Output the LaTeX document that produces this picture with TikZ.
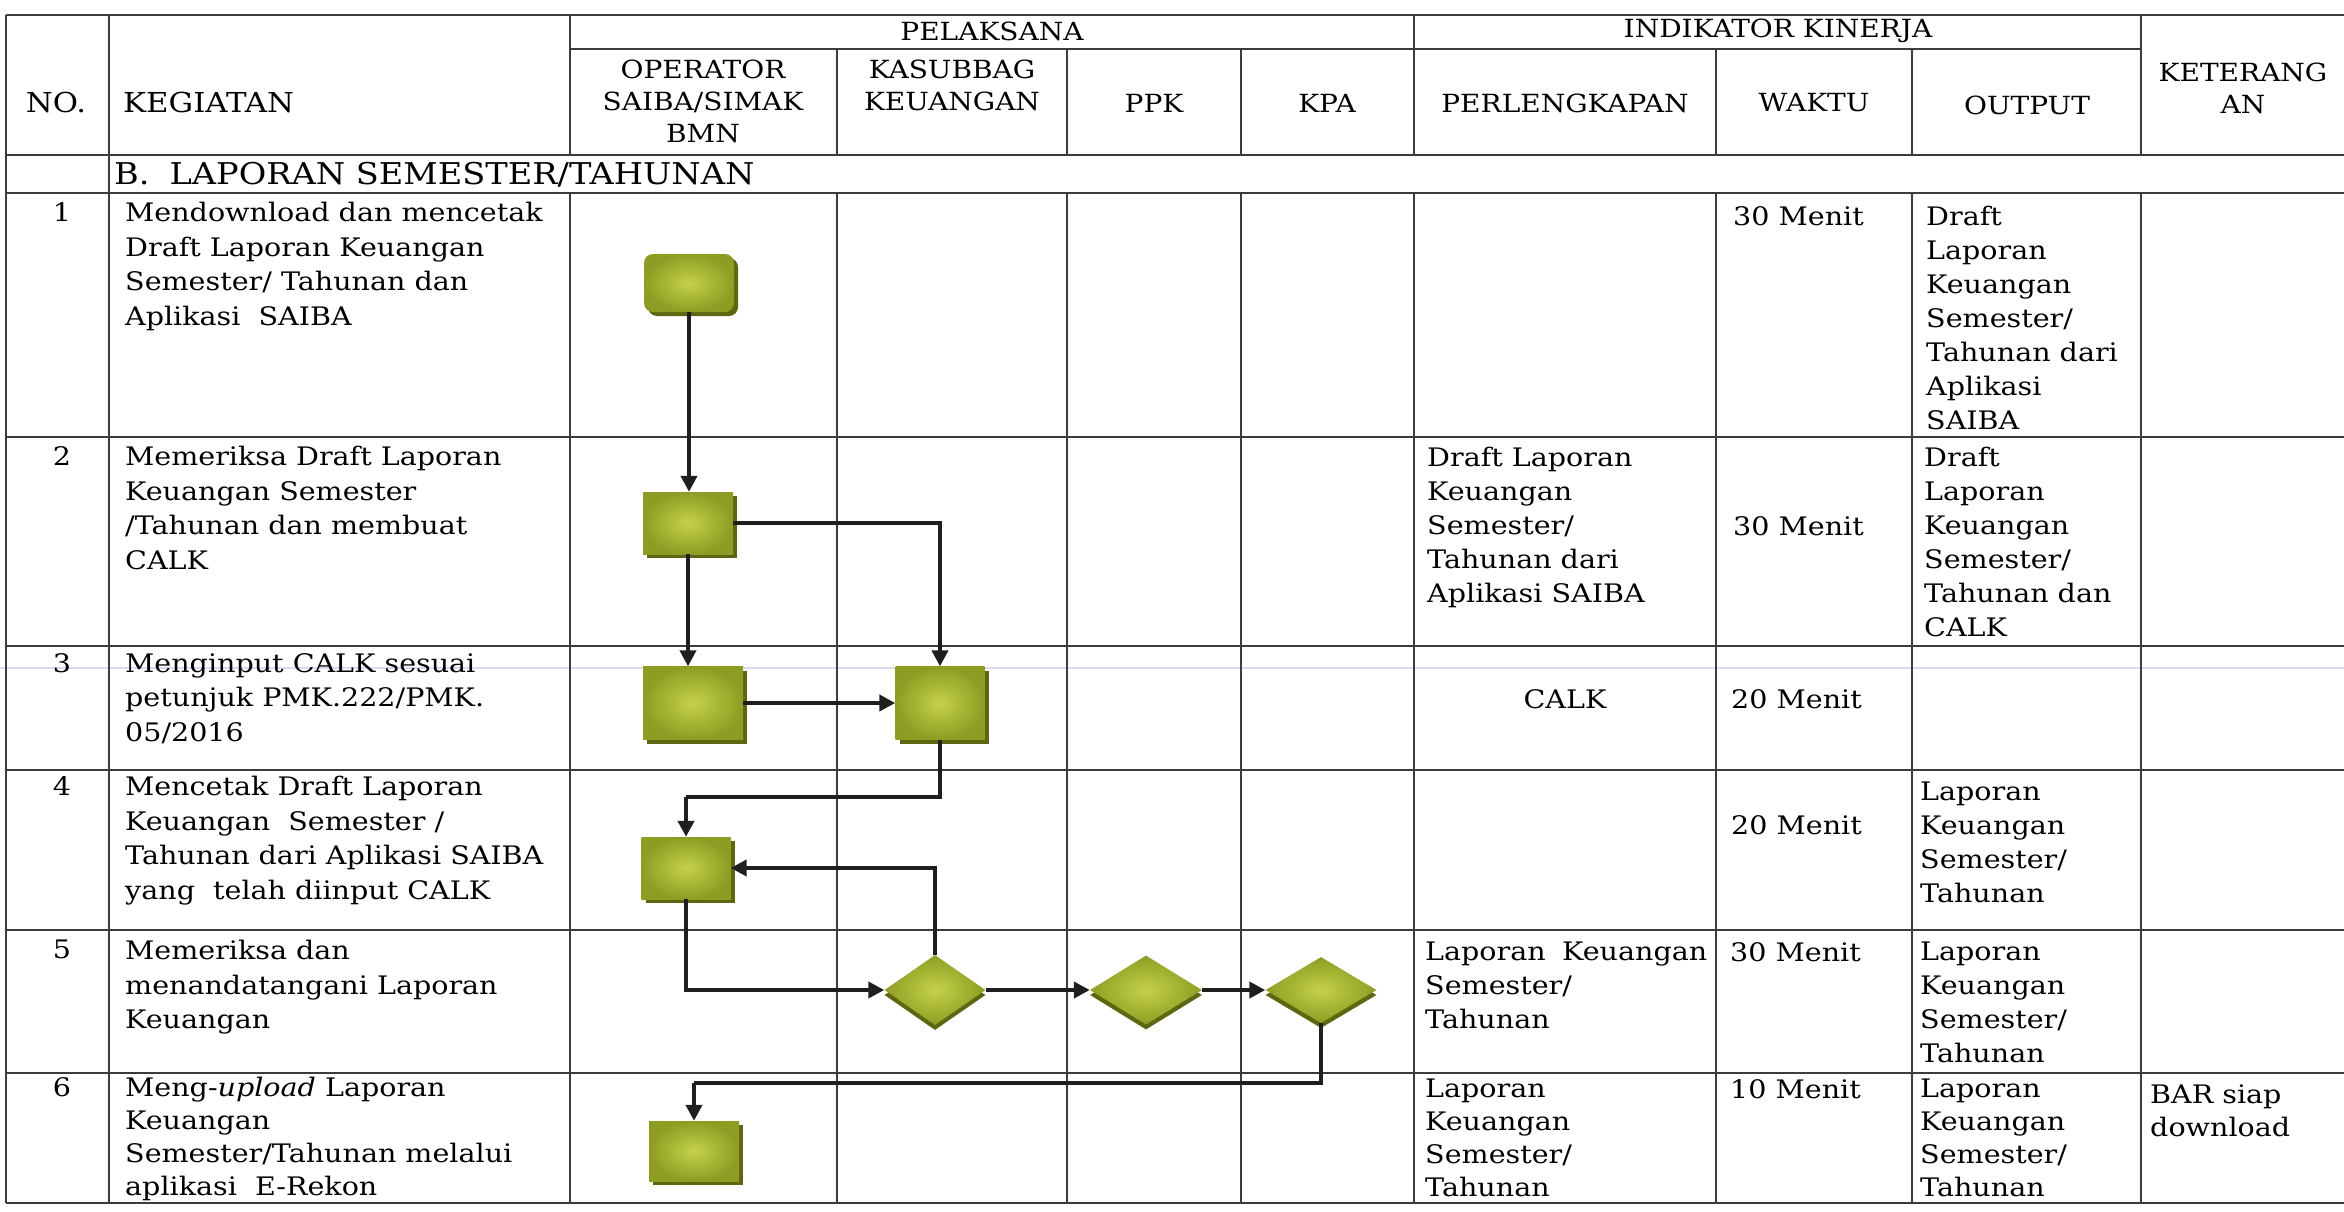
\documentclass[tikz,border=0pt]{standalone}
\usepackage{fontspec}
\setmainfont[FakeStretch=1.12]{DejaVu Serif}
\usetikzlibrary{arrows.meta,shapes.geometric,shadows,calc}
\definecolor{gridc}{HTML}{3C3C3C}
\definecolor{fillin}{HTML}{C4D24A}
\definecolor{fillout}{HTML}{8E9C24}
\definecolor{shad}{HTML}{5F6612}
\definecolor{scanline}{HTML}{DCD8EE}
\tikzset{
  hline/.style={line width=2pt, draw=gridc},
  vline/.style={line width=1.3pt, draw=gridc},
  flow/.style={line width=4.2pt, draw=black!88, -{Triangle[length=16pt,width=16pt]}},
  flowline/.style={line width=4.2pt, draw=black!88},
  shadedfill/.style={inner color=fillin, outer color=fillout, draw=none, inner sep=0pt,
     drop shadow={shadow xshift=4pt, shadow yshift=-4pt, fill=shad, opacity=1}},
  proc/.style={shadedfill, rectangle},
  procr/.style={shadedfill, rectangle, rounded corners=9pt},
  decis/.style={inner color=fillin, outer color=fillout, draw=none, inner sep=0pt, diamond,
     drop shadow={shadow xshift=0pt, shadow yshift=-5pt, fill=shad, opacity=1}},
  hd/.style={align=center, inner sep=0pt, font=\fontsize{25}{32}\selectfont},
  hdb/.style={inner sep=0pt, font=\fontsize{27.5}{32}\selectfont},
  body/.style={anchor=north west, align=left, inner sep=0pt, font=\fontsize{25.5}{34.5}\selectfont},
  rbody/.style={anchor=north west, align=left, inner sep=0pt, font=\fontsize{25.5}{34}\selectfont},
  rbodyt/.style={anchor=north west, align=left, inner sep=0pt, font=\fontsize{25.5}{33}\selectfont},
  num/.style={anchor=north, inner sep=0pt, font=\fontsize{25.5}{34.5}\selectfont},
}
\begin{document}
\begin{tikzpicture}[x=1pt,y=-1pt]
\fill[white] (0,0) rectangle (2344,1211);
\useasboundingbox (0,0) rectangle (2344,1211);

% faint scan line
\draw[line width=2.5pt, scanline] (0,668) -- (2344,668);

% table grid
\draw[hline] (6,15) -- (2344,15);
\draw[hline] (570,49) -- (2141,49);
\foreach \y in {155,193,437,646,770,930,1073,1203} \draw[hline] (6,\y) -- (2344,\y);
\draw[vline] (6,15) -- (6,1203);
\draw[vline] (109,15) -- (109,1203);
\foreach \x in {570,1414,2141} \draw[vline] (\x,15) -- (\x,155);
\foreach \x in {837,1067,1241,1716,1912} \draw[vline] (\x,49) -- (\x,155);
\foreach \x in {570,837,1067,1241,1414,1716,1912,2141} \draw[vline] (\x,193) -- (\x,1203);

% header
\node[hd] (hpel) at (992,31) {PELAKSANA};
\node[hd] (hind) at (1778,31) {INDIKATOR KINERJA};
\node[hdb] (hno) at (56,102) {NO.};
\node[hdb, anchor=west] (hkeg) at (123,102) {KEGIATAN};
\node[hd] (hop) at (703,101) {OPERATOR\\SAIBA/SIMAK\\BMN};
\node[hd] (hkas) at (952,85) {KASUBBAG\\KEUANGAN};
\node[hd] (hppk) at (1154,103) {PPK};
\node[hd] (hkpa) at (1327,103) {KPA};
\node[hd] (hper) at (1565,103) {PERLENGKAPAN};
\node[hd] (hwak) at (1814,103) {WAKTU};
\node[hd] (hout) at (2027,105) {OUTPUT};
\node[hd] (hket) at (2243,88) {KETERANG\\AN};

% section title
\node[anchor=west, inner sep=0pt, font=\fontsize{30}{34}\selectfont] (sect) at (114,175) {B.\hspace{20pt}LAPORAN SEMESTER/TAHUNAN};

% numbers
\node[num] (n1) at (62,202) {1};
\node[num] (n2) at (62,446) {2};
\node[num] (n3) at (62,653) {3};
\node[num] (n4) at (62,776) {4};
\node[num] (n5) at (62,940) {5};
\node[num] (n6) at (62,1077) {6};

% kegiatan
\node[body] (k1) at (125,202) {Mendownload dan mencetak\\Draft Laporan Keuangan\\Semester/ Tahunan dan\\Aplikasi\ \ SAIBA};
\node[body] (k2) at (125,446) {Memeriksa Draft Laporan\\Keuangan Semester\\/Tahunan dan membuat\\CALK};
\node[body] (k3) at (125,653) {Menginput CALK sesuai\\petunjuk PMK.222/PMK.\\05/2016};
\node[body] (k4) at (125,776) {Mencetak Draft Laporan\\Keuangan\ \ Semester /\\Tahunan dari Aplikasi SAIBA\\yang\ \ telah diinput CALK};
\node[body] (k5) at (125,940) {Memeriksa dan\\menandatangani Laporan\\Keuangan};
\node[rbodyt] (k6) at (125,1077) {Meng-\textit{upload} Laporan\\Keuangan\\Semester/Tahunan melalui\\aplikasi\ \ E-Rekon};

% perlengkapan
\node[rbody] (p2) at (1427,447) {Draft Laporan\\Keuangan\\Semester/\\Tahunan dari\\Aplikasi SAIBA};
\node[num] (p3) at (1565,689) {CALK};
\node[rbody] (p5) at (1425,942) {\makebox[282pt][s]{Laporan Keuangan}\\Semester/\\Tahunan};
\node[rbodyt] (p6) at (1425,1079) {Laporan\\Keuangan\\Semester/\\Tahunan};

% waktu
\node[rbody] (w1) at (1733,206) {30 Menit};
\node[rbody] (w2) at (1733,516) {30 Menit};
\node[rbody] (w3) at (1731,689) {20 Menit};
\node[rbody] (w4) at (1731,815) {20 Menit};
\node[rbody] (w5) at (1730,942) {30 Menit};
\node[rbody] (w6) at (1730,1079) {10 Menit};

% output
\node[rbody] (o1) at (1926,206) {Draft\\Laporan\\Keuangan\\Semester/\\Tahunan dari\\Aplikasi\\SAIBA};
\node[rbody] (o2) at (1924,447) {Draft\\Laporan\\Keuangan\\Semester/\\Tahunan dan\\CALK};
\node[rbody] (o4) at (1920,782) {Laporan\\Keuangan\\Semester/\\Tahunan};
\node[rbody] (o5) at (1920,942) {Laporan\\Keuangan\\Semester/\\Tahunan};
\node[rbodyt] (o6) at (1920,1079) {Laporan\\Keuangan\\Semester/\\Tahunan};

% keterangan
\node[rbodyt] (ket6) at (2150,1085) {BAR siap\\download};

% flow shapes
\node[procr, minimum width=90pt, minimum height=58pt] (b1) at (689,283) {};
\node[proc, minimum width=90pt, minimum height=62pt] (b2) at (688,523) {};
\node[proc, minimum width=100pt, minimum height=73pt] (b3) at (693,703) {};
\node[proc, minimum width=89pt, minimum height=73pt] (b4) at (940,703) {};
\node[proc, minimum width=89pt, minimum height=62pt] (b5) at (686,868) {};
\node[decis, minimum width=101pt, minimum height=70pt] (d1) at (935,990) {};
\node[decis, minimum width=112pt, minimum height=69pt] (d2) at (1146,990) {};
\node[decis, minimum width=111pt, minimum height=66pt] (d3) at (1321,990) {};
\node[proc, minimum width=90pt, minimum height=60pt] (b6) at (694,1151) {};

% connectors
\draw[flow] (b1.south) -- (b1.south |- b2.north);
\draw[flow] (b2.east) -| (b4.north);
\draw[flow] (b2.south) -- (b2.south |- b3.north);
\draw[flow] (b3.east) -- (b4.west);
\coordinate (c45) at ($(b5.north)+(0,-40)$);
\draw[flowline] (b4.south) |- (c45);
\draw[flow] (c45) -- (b5.north);
\draw[flow] (d1.north) |- (b5.east);
\draw[flow] (b5.south) |- (d1.west);
\draw[flow] (d1.east) -- (d2.west);
\draw[flow] (d2.east) -- (d3.west);
\coordinate (c36) at ($(b6.north)+(0,-38)$);
\draw[flowline] (d3.south) |- (c36);
\draw[flow] (c36) -- (b6.north);
\end{tikzpicture}
\end{document}
